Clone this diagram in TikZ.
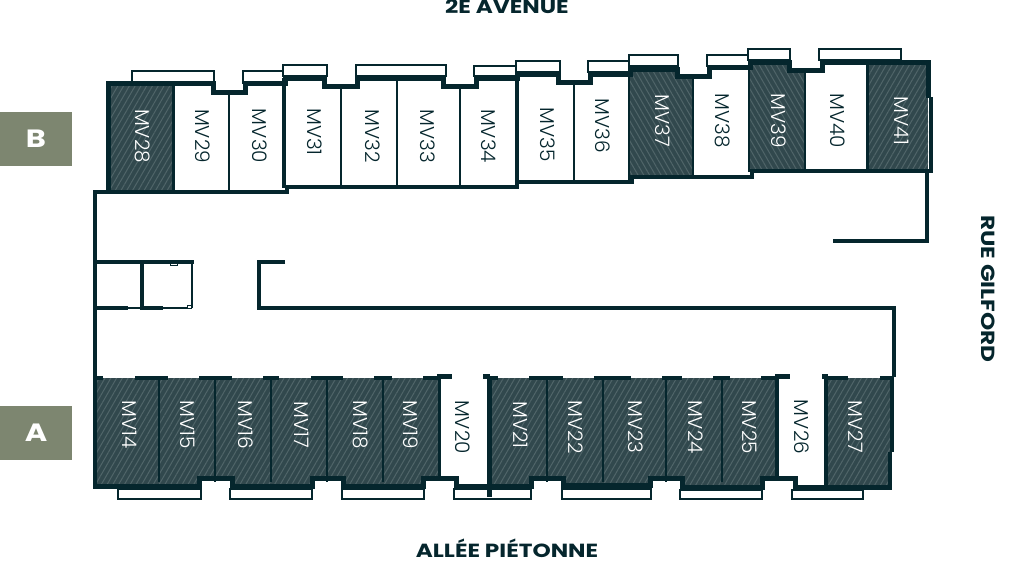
\documentclass[tikz,border=0pt]{standalone}
\usepackage{fontspec}
\setmainfont{Poppins Light}
\newfontfamily\headfont[FakeStretch=1.22]{Poppins Bold}
\usetikzlibrary{patterns.meta}
\definecolor{ink}{HTML}{05262D}
\definecolor{hatchbase}{HTML}{31484D}
\definecolor{hatchline}{HTML}{506569}
\definecolor{tabgreen}{HTML}{7D8670}
\tikzset{
  x=1pt,y=-1pt,
  wall/.style={draw=ink,line width=5pt,line join=miter},
  thin wall/.style={draw=ink,line width=3.4pt,line join=miter},
  partition/.style={draw=ink,line width=2.7pt},
  balcony/.style={draw=ink,line width=2pt,fill=white},
  dash wall/.style={draw=ink,line width=4.6pt},
  hatchr/.style={fill=hatchbase,draw=none,postaction={pattern={Lines[angle=60,distance=5pt,line width=1pt]},pattern color=hatchline}},
  hatchl/.style={fill=hatchbase,draw=none,postaction={pattern={Lines[angle=-60,distance=5pt,line width=1pt]},pattern color=hatchline}},
  unit/.style={rotate=-90,inner sep=0pt,font=\fontsize{20pt}{20pt}\selectfont},
  dark unit/.style={unit,text=ink},
  light unit/.style={unit,text=white},
  street/.style={inner sep=0pt,text=ink,font=\headfont\fontsize{19pt}{19pt}\selectfont},
  tabbox/.style={fill=tabgreen,minimum width=72pt,minimum height=54pt,inner sep=0pt,text=white,font=\headfont\fontsize{25pt}{25pt}\selectfont},
}
\begin{document}
\begin{tikzpicture}
\useasboundingbox (0,0) rectangle (1018,560);
% hatched units
\path[hatchr] (108,83) rectangle (173,192);
\path[hatchl] (630,69) -- (677,69) -- (677,76) -- (693,76) -- (693,177) -- (630,177) -- cycle;
\path[hatchl] (749,62) -- (789,62) -- (789,70) -- (805,70) -- (805,171) -- (749,171) -- cycle;
\path[hatchr] (867,62) rectangle (928,171);
\path[hatchr] (95,378) -- (439,378) -- (439,478) -- (423,478) -- (423,486) -- (343,486) -- (343,478) -- (312,478) -- (312,486) -- (232,486) -- (232,478) -- (199,478) -- (199,486) -- (95,486) -- cycle;
\path[hatchr] (489,378) -- (777,378) -- (777,478) -- (762,478) -- (762,486) -- (682,486) -- (682,478) -- (650,478) -- (650,485) -- (563,485) -- (563,478) -- (531,478) -- (531,486) -- (489,486) -- cycle;
\path[hatchr] (826,378) rectangle (891,486);
% balconies
\foreach \a/\b/\c/\d in {132/71/214/83,243/71/285/83,283/65/327/76,356/65/446/76,474/66/517/76,516/61/560/72,588/61/630/72,629/55/678/66,707/55/750/66,748/49/790/60,819/49/901/60,
 118/489/201/499,230/489/312/499,342/489/424/499,454/489/531/499,562/489/651/499,680/490/762/499,792/490/863/499}
  \draw[balcony] (\a,\b) rectangle (\c,\d);
% partitions, upper row
\foreach \a/\b/\c in {229/92/190,341/86/186,397/78/186,460/86/186,574/82/181,693/76/176,749/64/172,805/70/170}
  \draw[partition] (\a,\b) -- (\a,\c);
\draw[draw=ink,line width=3pt] (173,83) -- (173,191);
\draw[draw=ink,line width=3.2pt] (284,78) -- (284,188);
\draw[draw=ink,line width=4pt] (517,76) -- (517,186);
\draw[partition] (629,70) -- (629,180);
\draw[draw=ink,line width=3pt] (867,62) -- (867,170);
% upper row outline
\draw[wall] (108,192) -- (108,83) -- (213,83) -- (213,92) -- (245,92) -- (245,83) -- (285,83) -- (285,78) -- (324,78) -- (324,86) -- (357,86) -- (357,78) -- (443,78) -- (443,86) -- (476,86) -- (476,78) -- (517,78) -- (517,74) -- (558,74) -- (558,82) -- (590,82) -- (590,74) -- (630,74) -- (630,69) -- (677,69) -- (677,76) -- (709,76) -- (709,67) -- (750,67) -- (750,62) -- (789,62) -- (789,70) -- (822,70) -- (822,62) -- (928,62) -- (928,98);
\draw[draw=ink,line width=3.4pt] (95,377) -- (95,192) -- (287,192) -- (287,187) -- (517,187) -- (517,182) -- (632,182) -- (632,177) -- (752,177) -- (752,171) -- (932,171);
\draw[draw=ink,line width=4.4pt] (931,97) -- (931,173);
\draw[thin wall] (927,172) -- (927,241) -- (833,241);
% central rooms
\draw[thin wall] (95,262) -- (194,262);
\draw[thin wall] (95,308) -- (128,308);
\draw[draw=ink,line width=1.4pt] (128,308) -- (140,308);
\draw[thin wall] (140,308) -- (163,308);
\draw[draw=ink,line width=1.4pt] (163,308) -- (192,308);
\draw[draw=ink,line width=1.4pt] (192,262) -- (192,308);
\draw[draw=ink,line width=4.6pt] (142,262) -- (142,308);
\draw[draw=ink,line width=.7pt,fill=white] (170,263.5) rectangle (177,265.5);
\draw[draw=ink,line width=.7pt,fill=white] (187,305) rectangle (191,308);
\draw[thin wall] (285,262) -- (259,262) -- (259,308) -- (894,308) -- (894,377);
% lower row partitions
\foreach \a in {159,215,271,327,383,547,603,666,722}
  \draw[partition] (\a,378) -- (\a,482);
\draw[draw=ink,line width=3pt] (439,378) -- (439,478);
\draw[draw=ink,line width=3.2pt] (777,378) -- (777,478);
\draw[draw=ink,line width=3.4pt] (826,378) -- (826,486);
\draw[draw=ink,line width=5pt] (489,376) -- (489,497);
\draw[draw=ink,line width=3.8pt] (892,376) -- (892,452);
\draw[draw=ink,line width=3.4pt] (890,452) -- (890,486);
\draw[draw=ink,line width=4pt] (95,378) -- (95,486);
% lower row outline
\draw[wall] (93,486) -- (199,486) -- (199,478) -- (232,478) -- (232,486) -- (312,486) -- (312,478) -- (343,478) -- (343,486) -- (423,486) -- (423,478) -- (456,478) -- (456,486) -- (531,486) -- (531,478) -- (563,478) -- (563,485) -- (650,485) -- (650,478) -- (682,478) -- (682,487) -- (762,487) -- (762,478) -- (795,478) -- (795,487) -- (892,487);
% lower row wall stubs along the corridor
\foreach \a/\b in {93/103,135/168,199/232,263/279,311/343,374/392,423/438,490/498,529/563,594/631,662/682,713/730,761/777,828/848,880/892}
  \draw[dash wall] (\a,378) -- (\b,378);
\draw[dash wall] (437,376.5) -- (452,376.5);
\draw[dash wall] (483,376.5) -- (490,376.5);
\draw[dash wall] (775,376.5) -- (790,376.5);
\draw[dash wall] (822,376.5) -- (828,376.5);
% unit labels
\foreach \n/\x/\y/\s in {28/143/136/light unit,29/203/136/dark unit,30/260/136/dark unit,31/315/132/dark unit,32/373/136/dark unit,33/428/136/dark unit,34/489/136/dark unit,35/548/135/dark unit,36/603/126/dark unit,37/663/121/light unit,38/723/121/dark unit,39/779/121/light unit,40/838/121/dark unit,41/902/121/light unit,
 14/130/425/light unit,15/188/425/light unit,16/246/425/light unit,17/302/425/light unit,18/361/425/light unit,19/411/425/light unit,20/463/427/dark unit,21/521/425/light unit,22/576/427/light unit,23/636/427/light unit,24/696/427/light unit,25/750/427/light unit,26/802/427/dark unit,27/856/427/light unit}
  \node[\s] (mv\n) at (\x,\y) {MV\n};
% street names and tabs
\node[street,anchor=base] (north) at (507,13.5) {2E AVENUE};
\node[street,anchor=base] (south) at (507,557.5) {ALLÉE PIÉTONNE};
\node[street,rotate=-90] (east) at (988,289) {RUE GILFORD};
\node[tabbox] (tabB) at (36,139) {B};
\node[tabbox] (tabA) at (36,433) {A};
\end{tikzpicture}
\end{document}
